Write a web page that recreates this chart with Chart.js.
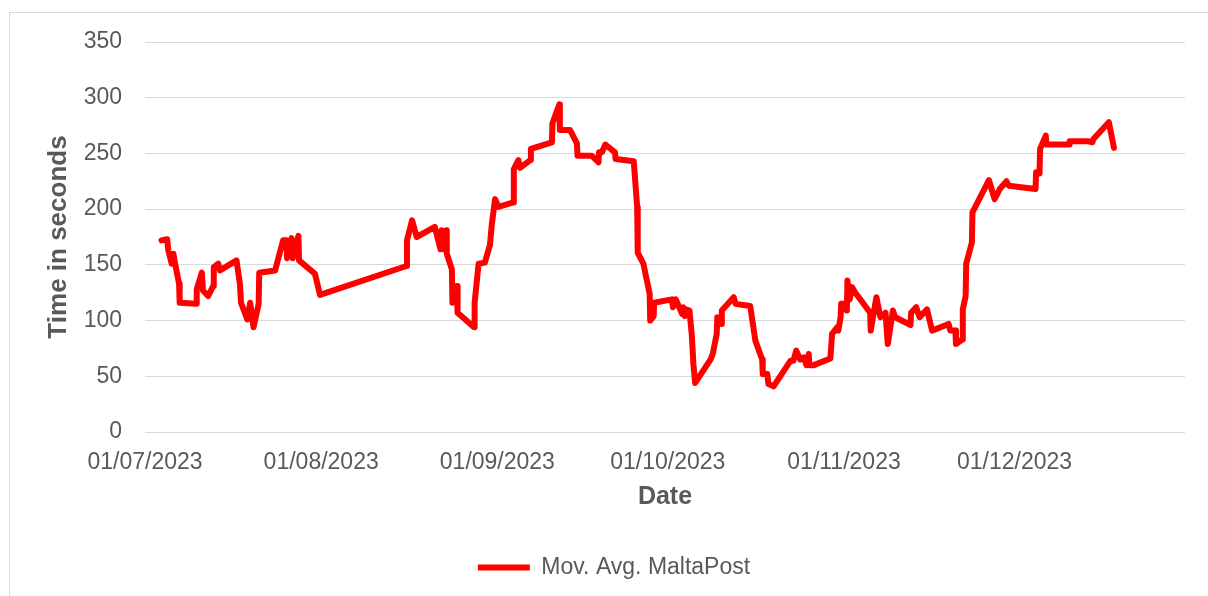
<!DOCTYPE html>
<html>
<head>
<meta charset="utf-8">
<script src="https://cdn.jsdelivr.net/npm/chart.js@4"></script>
<style>
  body { margin: 0; background: #fff; }
  #wrap { position: relative; width: 1208px; height: 596px; overflow: hidden; }
  #frame { position: absolute; left: 9px; top: 12px; width: 1400px; height: 800px; border: 1px solid #d9d9d9; pointer-events: none; }
</style>
</head>
<body>
<div id="wrap">
  <canvas id="myChart"></canvas>
  <div id="frame"></div>
</div>
<script>
// days since 01/07/2023
var dayNum = [
  2.9, 3.9, 4.1, 4.7, 5.0, 5.3, 6.0, 6.1, 9.0, 9.1,
  10.0, 10.2, 11.1, 12.0, 12.1, 12.9, 13.2, 16.1, 16.7, 16.9,
  18.0, 18.5, 19.1, 20.0, 20.1, 22.9, 24.3, 24.9, 25.0, 25.8,
  26.0, 27.0, 27.1, 29.9, 30.8, 46.0, 46.1, 47.0, 47.8, 51.0,
  52.0, 52.2, 52.5, 53.0, 53.1, 54.0, 54.1, 54.9, 55.0, 57.9,
  58.0, 58.7, 59.8, 60.7, 61.0, 61.6, 62.2, 64.8, 64.9, 65.7,
  66.0, 67.8, 67.9, 71.6, 71.7, 72.9, 73.0, 74.8, 76.0, 76.1,
  78.6, 79.8, 79.9, 80.4, 81.0, 82.7, 82.8, 86.0, 86.6, 86.7,
  87.7, 88.8, 88.9, 89.5, 89.6, 92.7, 92.9, 93.4, 94.5, 94.7,
  95.0, 95.2, 95.8, 96.2, 96.5, 96.8, 99.5, 99.9, 100.6, 100.7,
  101.4, 101.5, 103.6, 103.9, 106.5, 107.4, 108.6, 108.7, 109.5, 109.7,
  110.6, 113.6, 114.1, 114.6, 115.3, 115.9, 116.4, 116.8, 116.9, 117.7,
  120.6, 120.9, 121.8, 122.0, 122.4, 122.5, 123.4, 123.5, 123.6, 124.0,
  124.4, 125.0, 127.6, 127.7, 128.7, 129.4, 130.3, 130.7, 131.6, 132.0,
  134.7, 134.8, 135.7, 136.3, 137.6, 138.5, 141.4, 141.7, 142.6, 142.7,
  143.8, 143.9, 144.4, 144.5, 145.5, 145.6, 148.5, 149.5, 150.4, 151.6,
  152.0, 156.7, 156.8, 157.4, 157.5, 158.5, 158.6, 162.6, 162.7, 165.8,
  166.7, 166.9, 169.6, 170.5
];
var movAvg = [
  172, 173, 163, 151, 160, 151, 133, 116, 115, 128,
  143, 127, 122, 131, 148, 151, 145, 154, 133, 116,
  101, 116, 94, 115, 143, 145, 172, 172, 156, 174,
  156, 176, 154, 142, 123, 149, 172, 190, 175, 184,
  164, 181, 164, 181, 160, 146, 116, 131, 107, 94,
  116, 151, 152, 168, 185, 209, 202, 206, 236, 244,
  237, 244, 254, 260, 277, 294, 271, 271, 259, 248,
  248, 242, 251, 251, 258, 251, 245, 243, 202, 161,
  151, 124, 100, 104, 116, 119, 112, 119, 106, 112,
  104, 110, 109, 88, 61, 44, 65, 70, 88, 103,
  97, 109, 121, 115, 113, 82, 65, 52, 52, 43,
  41, 64, 64, 73, 65, 67, 60, 70, 60, 60,
  66, 88, 94, 91, 103, 115, 115, 109, 136, 119,
  130, 125, 107, 91, 121, 103, 107, 79, 109, 103,
  96, 107, 112, 103, 110, 91, 97, 91, 91, 79,
  83, 110, 122, 151, 170, 197, 226, 209, 218, 225,
  221, 218, 233, 232, 254, 266, 258, 258, 261, 261,
  260, 263, 278, 255
];
var monthTicks = ["01/07/2023", "01/08/2023", "01/09/2023", "01/10/2023", "01/11/2023", "01/12/2023"];
var yTicks = [0, 50, 100, 150, 200, 250, 300, 350];

function dayOf(label) {
  var p = label.split("/");
  var t = Date.UTC(+p[2], +p[1] - 1, +p[0]);
  return Math.round((t - Date.UTC(2023, 6, 1)) / 86400000);
}
var tickDays = monthTicks.map(dayOf);

var points = dayNum.map(function (d, i) {
  return { x: d, y: movAvg[i] };
});

var grey = "#595959";
var chart = document.getElementById("myChart").getContext("2d");
var myChart = new Chart(chart, {
  type: "line",
  data: {
    datasets: [
      {
        label: "Mov. Avg. MaltaPost",
        data: points,
        borderColor: "#ff0000",
        backgroundColor: "#ff0000",
        borderWidth: 6,
        borderJoinStyle: "round",
        borderCapStyle: "round",
        pointRadius: 0,
        tension: 0,
      },
    ],
  },
  options: {
    responsive: true,
    maintainAspectRatio: false,
    animation: false,
    layout: { padding: { left: 43, right: 23, top: 42, bottom: 7 } },
    plugins: {
      tooltip: { enabled: false },
      legend: {
        position: "bottom",
        labels: {
          color: grey,
          font: { family: "Liberation Sans, Arial", size: 23 },
          usePointStyle: true,
          pointStyle: "line",
          pointStyleWidth: 52,
          padding: 8,
        },
      },
    },
    scales: {
      x: {
        type: "linear",
        min: 0,
        max: 183,
        grid: { display: false },
        border: { display: false },
        afterBuildTicks: function (scale) {
          scale.ticks = tickDays.map(function (d) { return { value: d }; });
        },
        afterFit: function (scale) { scale.height = 116; },
        ticks: {
          color: grey,
          padding: 9,
          maxRotation: 0,
          autoSkip: false,
          font: { family: "Liberation Sans, Arial", size: 23 },
          callback: function (v) {
            var i = tickDays.indexOf(v);
            return i >= 0 ? monthTicks[i] : "";
          },
        },
        title: {
          display: true,
          text: "Date",
          color: grey,
          padding: { top: 0, bottom: 36 },
          font: { family: "Liberation Sans, Arial", size: 25, weight: "bold" },
        },
      },
      y: {
        min: 0,
        max: 350,
        afterBuildTicks: function (scale) {
          scale.ticks = yTicks.map(function (v) { return { value: v }; });
        },
        afterFit: function (scale) { scale.width = 102; },
        grid: { color: "#d9d9d9", lineWidth: 1, drawTicks: false },
        border: { display: false },
        ticks: {
          color: grey,
          padding: 23,
          font: { family: "Liberation Sans, Arial", size: 23 },
        },
        title: {
          display: true,
          text: "Time in seconds",
          color: grey,
          padding: { top: 0, bottom: 0 },
          font: { family: "Liberation Sans, Arial", size: 26, weight: "bold" },
        },
      },
    },
  },
});
</script>
</body>
</html>
